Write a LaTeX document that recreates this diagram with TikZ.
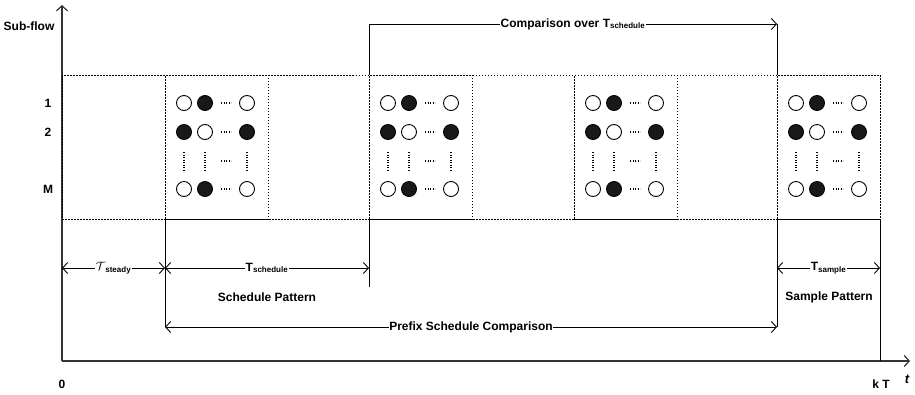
\documentclass[tikz,border=0pt]{standalone}
\usepackage{fontspec}
\setmainfont{Liberation Sans}
\usetikzlibrary{arrows.meta}

\tikzset{
  lbl/.style={font=\bfseries\fontsize{12}{14}\selectfont},
  dlbl/.style={lbl,fill=white,inner sep=0.5pt},
  axis/.style={line width=1.2pt,draw=black!80,-{Straight Barb[length=5pt,width=11pt]}},
  dim/.style={line width=0.9pt,{Straight Barb[length=5pt,width=11pt]}-{Straight Barb[length=5pt,width=11pt]}},
  rarr/.style={line width=0.9pt,-{Straight Barb[length=5pt,width=11pt]}},
  frame/.style={line width=1pt,dash pattern=on 1.5pt off 1.5pt},
  patbox/.style={frame,draw,anchor=north west,minimum width=103pt,minimum height=144pt,inner sep=0pt,outer sep=0pt},
  ocirc/.style={circle,draw,line width=0.9pt,minimum size=15pt,inner sep=0pt},
  fcirc/.style={circle,draw,fill=black!90,line width=0.9pt,minimum size=15pt,inner sep=0pt},
  hdots/.style={line width=1.7pt,dash pattern=on 1.2pt off 1.3pt},
  vdots/.style={line width=1.7pt,dash pattern=on 1.2pt off 1.3pt}
}

\begin{document}
\begin{tikzpicture}[x=1pt,y=-1pt]
\useasboundingbox (0,0) rectangle (915,394);
% axes
\coordinate (o) at (62,361);
\coordinate (ytop) at (62,5);
\coordinate (xend) at (910,361);
\draw[axis] (o) -- (ytop);
\draw[axis] (o) -- (xend);
\node[lbl] (subflow) at (29,26) {Sub-flow};
\node[lbl] (zero) at (62,384) {0};
\node[lbl] (kt) at (881,384) {k T};
\node[font=\bfseries\itshape\fontsize{13}{14}\selectfont] (t) at (907,379) {t};
\node[lbl] (r1) at (48,103) {1};
\node[lbl] (r2) at (48,132) {2};
\node[lbl] (rm) at (48,189) {M};

% sub-flow band and pattern boxes
\draw[frame] (62,75) rectangle (880,219);
\node[patbox] (p1) at (165,75) {};
\node[patbox] (p2) at (369,75) {};
\node[patbox] (p3) at (574,75) {};
\node[patbox] (p4) at (777,75) {};

\foreach \b in {1,...,4}{
  \foreach \r/\ry/\pa/\pb in {1/28/ocirc/fcirc,2/57/fcirc/ocirc,3/114/ocirc/fcirc}{
    \node[\pa] (c\b\r a) at ([shift={(19,\ry)}]p\b.north west) {};
    \node[\pb] (c\b\r b) at ([shift={(40,\ry)}]p\b.north west) {};
    \node[\pa] (c\b\r c) at ([shift={(82,\ry)}]p\b.north west) {};
    \draw[hdots] ([shift={(56,\ry)}]p\b.north west) -- +(10,0);
  }
  \foreach \cx in {19,40,82}
    \draw[vdots] ([shift={(\cx,77)}]p\b.north west) -- +(0,18);
  \draw[hdots] ([shift={(56,86)}]p\b.north west) -- +(10,0);
}

% marker lines
\coordinate (cmpl) at (369,24);
\coordinate (cmpr) at (777,24);
\coordinate (preL) at (165,327);
\coordinate (preR) at (777,327);
\coordinate (schE) at (369,287);
\draw[line width=0.9pt] (cmpl) -- (p2.north west);
\draw[line width=0.9pt] (cmpr) -- (p4.north west);
\draw[line width=0.9pt] (p1.south west) -- (preL);
\draw[line width=0.9pt] (p2.south west) -- (schE);
\draw[line width=0.9pt] (p4.south west) -- (preR);
\draw[line width=0.9pt] (p4.south east) -- (o -| p4.south east);

% dimensions
\coordinate (d0) at (62,268);
\coordinate (d1) at (165,268);
\coordinate (d2) at (369,268);
\coordinate (d3) at (777,268);
\coordinate (d4) at (880,268);
\draw[dim] (d0) -- node[dlbl] (tst) {$\mathcal{T}$\textsubscript{steady}} (d1);
\draw[dim] (d1) -- node[dlbl] (tsc) {T\textsubscript{schedule}} (d2);
\draw[dim] (d3) -- node[dlbl] (tsa) {T\textsubscript{sample}} (d4);
\draw[dim] (preL) -- node[dlbl] (pre) {Prefix Schedule Comparison} (preR);
\draw[rarr] (cmpl) -- node[dlbl] (cmp) {Comparison over T\textsubscript{schedule}} (cmpr);
\node[lbl] (schpat) at (267,297) {Schedule Pattern};
\node[lbl] (smppat) at (829,297) {Sample Pattern};
\end{tikzpicture}
\end{document}
